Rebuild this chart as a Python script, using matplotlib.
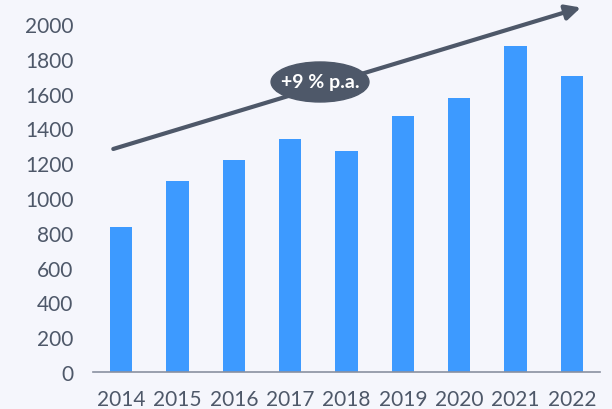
import matplotlib.pyplot as plt
from matplotlib.patches import Ellipse

years = ["2014", "2015", "2016", "2017", "2018", "2019", "2020", "2021", "2022"]
values = [833, 1098, 1218, 1339, 1270, 1471, 1575, 1874, 1701]
yticks = [0, 200, 400, 600, 800, 1000, 1200, 1400, 1600, 1800, 2000]

bg = "#f5f6fc"
bar_col = "#3d9aff"
dark = "#4e5869"

plt.rcParams['font.family'] = ['Lato', 'DejaVu Sans']

fig = plt.figure(figsize=(6.12, 4.10), dpi=100)
fig.set_facecolor(bg)
ax = fig.add_axes([93 / 612, 37 / 410, 507 / 612, 373 / 410])
ax.set_facecolor(bg)

x = list(range(len(years)))
ax.bar(x, values, width=0.4, color=bar_col, zorder=2)

ax.set_xlim(-0.5, 8.5)
ax.set_ylim(0, 2144)
ax.set_xticks(x)
ax.set_xticklabels(years)
ax.set_yticks(yticks)
ax.tick_params(length=0, labelsize=15, colors=dark)
ax.tick_params(axis='x', pad=12.5)
ax.tick_params(axis='y', pad=14)
for s in ["top", "right", "left"]:
    ax.spines[s].set_visible(False)
ax.spines["bottom"].set_color("#8a90a0")
ax.spines["bottom"].set_linewidth(1.2)

# growth arrow
ax.annotate("", xy=(8.16, 2095), xytext=(-0.14, 1282),
            arrowprops=dict(arrowstyle="-|>,head_length=0.9,head_width=0.45",
                            color=dark, lw=3, shrinkA=0, shrinkB=0), zorder=3)
ell = Ellipse((3.53, 1667), width=98 / 56.4, height=40 / 0.174, color=dark, zorder=4)
ax.add_patch(ell)
ax.text(3.53, 1667, "+9 % p.a.", color="white", fontsize=14, fontweight="bold",
        ha="center", va="center", zorder=5)

fig.savefig("out.png", dpi=100, facecolor=bg)
